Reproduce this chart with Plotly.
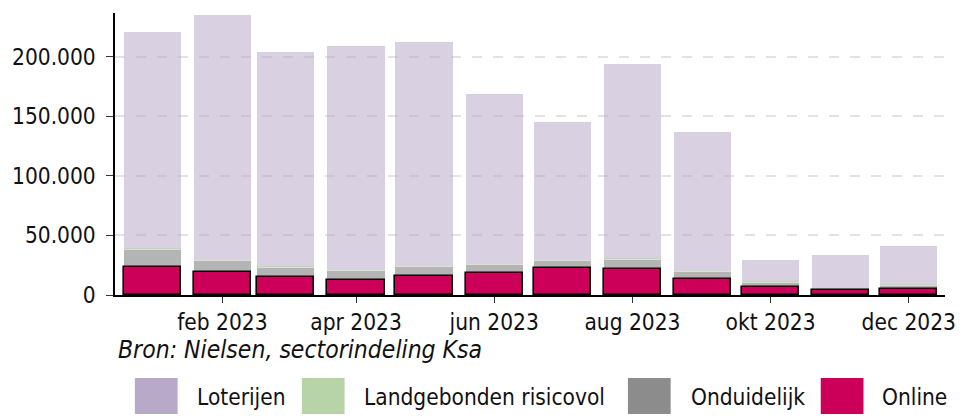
import plotly.graph_objects as go

# ---- data ----
months = ["2023-01-01", "2023-02-01", "2023-03-01", "2023-04-01", "2023-05-01", "2023-06-01",
          "2023-07-01", "2023-08-01", "2023-09-01", "2023-10-01", "2023-11-01", "2023-12-01"]
online = [23600, 19100, 15200, 12700, 16300, 18800, 22500, 21900, 13300, 6500, 4300, 5400]
onduidelijk = [14400, 9600, 7900, 7700, 7400, 6600, 6200, 7700, 6200, 4000, 400, 2400]
landgebonden = [700, 650, 700, 600, 650, 600, 700, 650, 600, 800, 700, 700]
loterijen = [182000, 205600, 180500, 188200, 188300, 142900, 116100, 163600, 116600, 18200, 28200, 32700]

tick_vals = ["2023-02-01", "2023-04-01", "2023-06-01", "2023-08-01", "2023-10-01", "2023-12-01"]
tick_text = ["feb 2023", "apr 2023", "jun 2023", "aug 2023", "okt 2023", "dec 2023"]
y_ticks = [0, 50000, 100000, 150000, 200000]

series_names = ["Loterijen", "Landgebonden risicovol", "Onduidelijk", "Online"]
series_colors = ["#b9a9c9", "#b7d4a8", "#8c8c8c", "#cc0058"]
source_text = "Bron: Nielsen, sectorindeling Ksa"

# ---- figure ----
FONT = "DejaVu Sans Condensed, DejaVu Sans"
BAR_W = 25.3 * 86400000

base_ond = online
base_land = [a + b for a, b in zip(online, onduidelijk)]
base_lot = [a + b + c for a, b, c in zip(online, onduidelijk, landgebonden)]

fig = go.Figure()
fig.add_trace(go.Bar(x=months, y=loterijen, base=base_lot, name=series_names[0],
                     marker=dict(color=series_colors[0], opacity=0.55, line=dict(width=0)),
                     width=BAR_W))
fig.add_trace(go.Bar(x=months, y=landgebonden, base=base_land, name=series_names[1],
                     marker=dict(color=series_colors[1], opacity=0.6, line=dict(width=0)),
                     width=BAR_W))
fig.add_trace(go.Bar(x=months, y=onduidelijk, base=base_ond, name=series_names[2],
                     marker=dict(color=series_colors[2], opacity=0.65, line=dict(width=0)),
                     width=BAR_W))
fig.add_trace(go.Bar(x=months, y=online, name=series_names[3],
                     marker=dict(color=series_colors[3], line=dict(color="black", width=1.6)),
                     width=BAR_W))

W, H = 968, 418
L, R, T, B = 112, 21, 13, 123
PW, PH = W - L - R, H - T - B


def px(x):
    return (x - L) / PW


def py(y):
    return (H - B - y) / PH


shapes = []
annotations = []
legend_items = [(132, 192), (300, 360), (628, 689), (822, 882)]
for (sx, tx), name, col in zip(legend_items, series_names, series_colors):
    shapes.append(dict(type="rect", xref="paper", yref="paper",
                       x0=px(sx), x1=px(sx + 43), y0=py(414), y1=py(378),
                       fillcolor=col, line=dict(width=0)))
    annotations.append(dict(xref="paper", yref="paper", x=px(tx), y=py(397),
                            xanchor="left", yanchor="middle", showarrow=False,
                            text=name, font=dict(family=FONT, size=22.5, color="#111")))

annotations.append(dict(xref="paper", yref="paper", x=px(113), y=py(349),
                        xanchor="left", yanchor="middle", showarrow=False,
                        text=source_text,
                        font=dict(family=FONT, size=24.5, color="#111", style="italic")))

fig.update_layout(
    width=W, height=H,
    margin=dict(l=L, r=R, t=T, b=B),
    barmode="overlay",
    bargap=0,
    showlegend=False,
    plot_bgcolor="white", paper_bgcolor="white",
    separators=",.",
    font=dict(family=FONT, size=22.5, color="#111"),
    shapes=shapes,
    annotations=annotations,
)
fig.update_xaxes(
    type="date",
    range=["2022-12-15 14:00", "2023-12-17 00:00"],
    tickvals=tick_vals, ticktext=tick_text,
    showgrid=False, zeroline=False,
    showline=True, linecolor="black", linewidth=1.5,
    ticks="outside", ticklen=6, tickwidth=1, tickcolor="#333",
    tickfont=dict(family=FONT, size=22.5, color="#111"),
    layer="above traces",
)
fig.update_yaxes(
    range=[0, 236900],
    tickvals=y_ticks, tickformat=",d",
    showgrid=True, gridcolor="rgba(0,0,0,0.11)", gridwidth=2, griddash="10px,11px",
    zeroline=False,
    showline=True, linecolor="black", linewidth=1.5,
    ticks="outside", ticklen=7, tickwidth=1, tickcolor="#333",
    ticklabelstandoff=6,
    tickfont=dict(family=FONT, size=22.5, color="#111"),
    layer="above traces",
)

fig.write_html("out.html",
               config={"displayModeBar": False},
               post_script="document.body.style.margin='0';document.body.style.overflow='hidden';")
